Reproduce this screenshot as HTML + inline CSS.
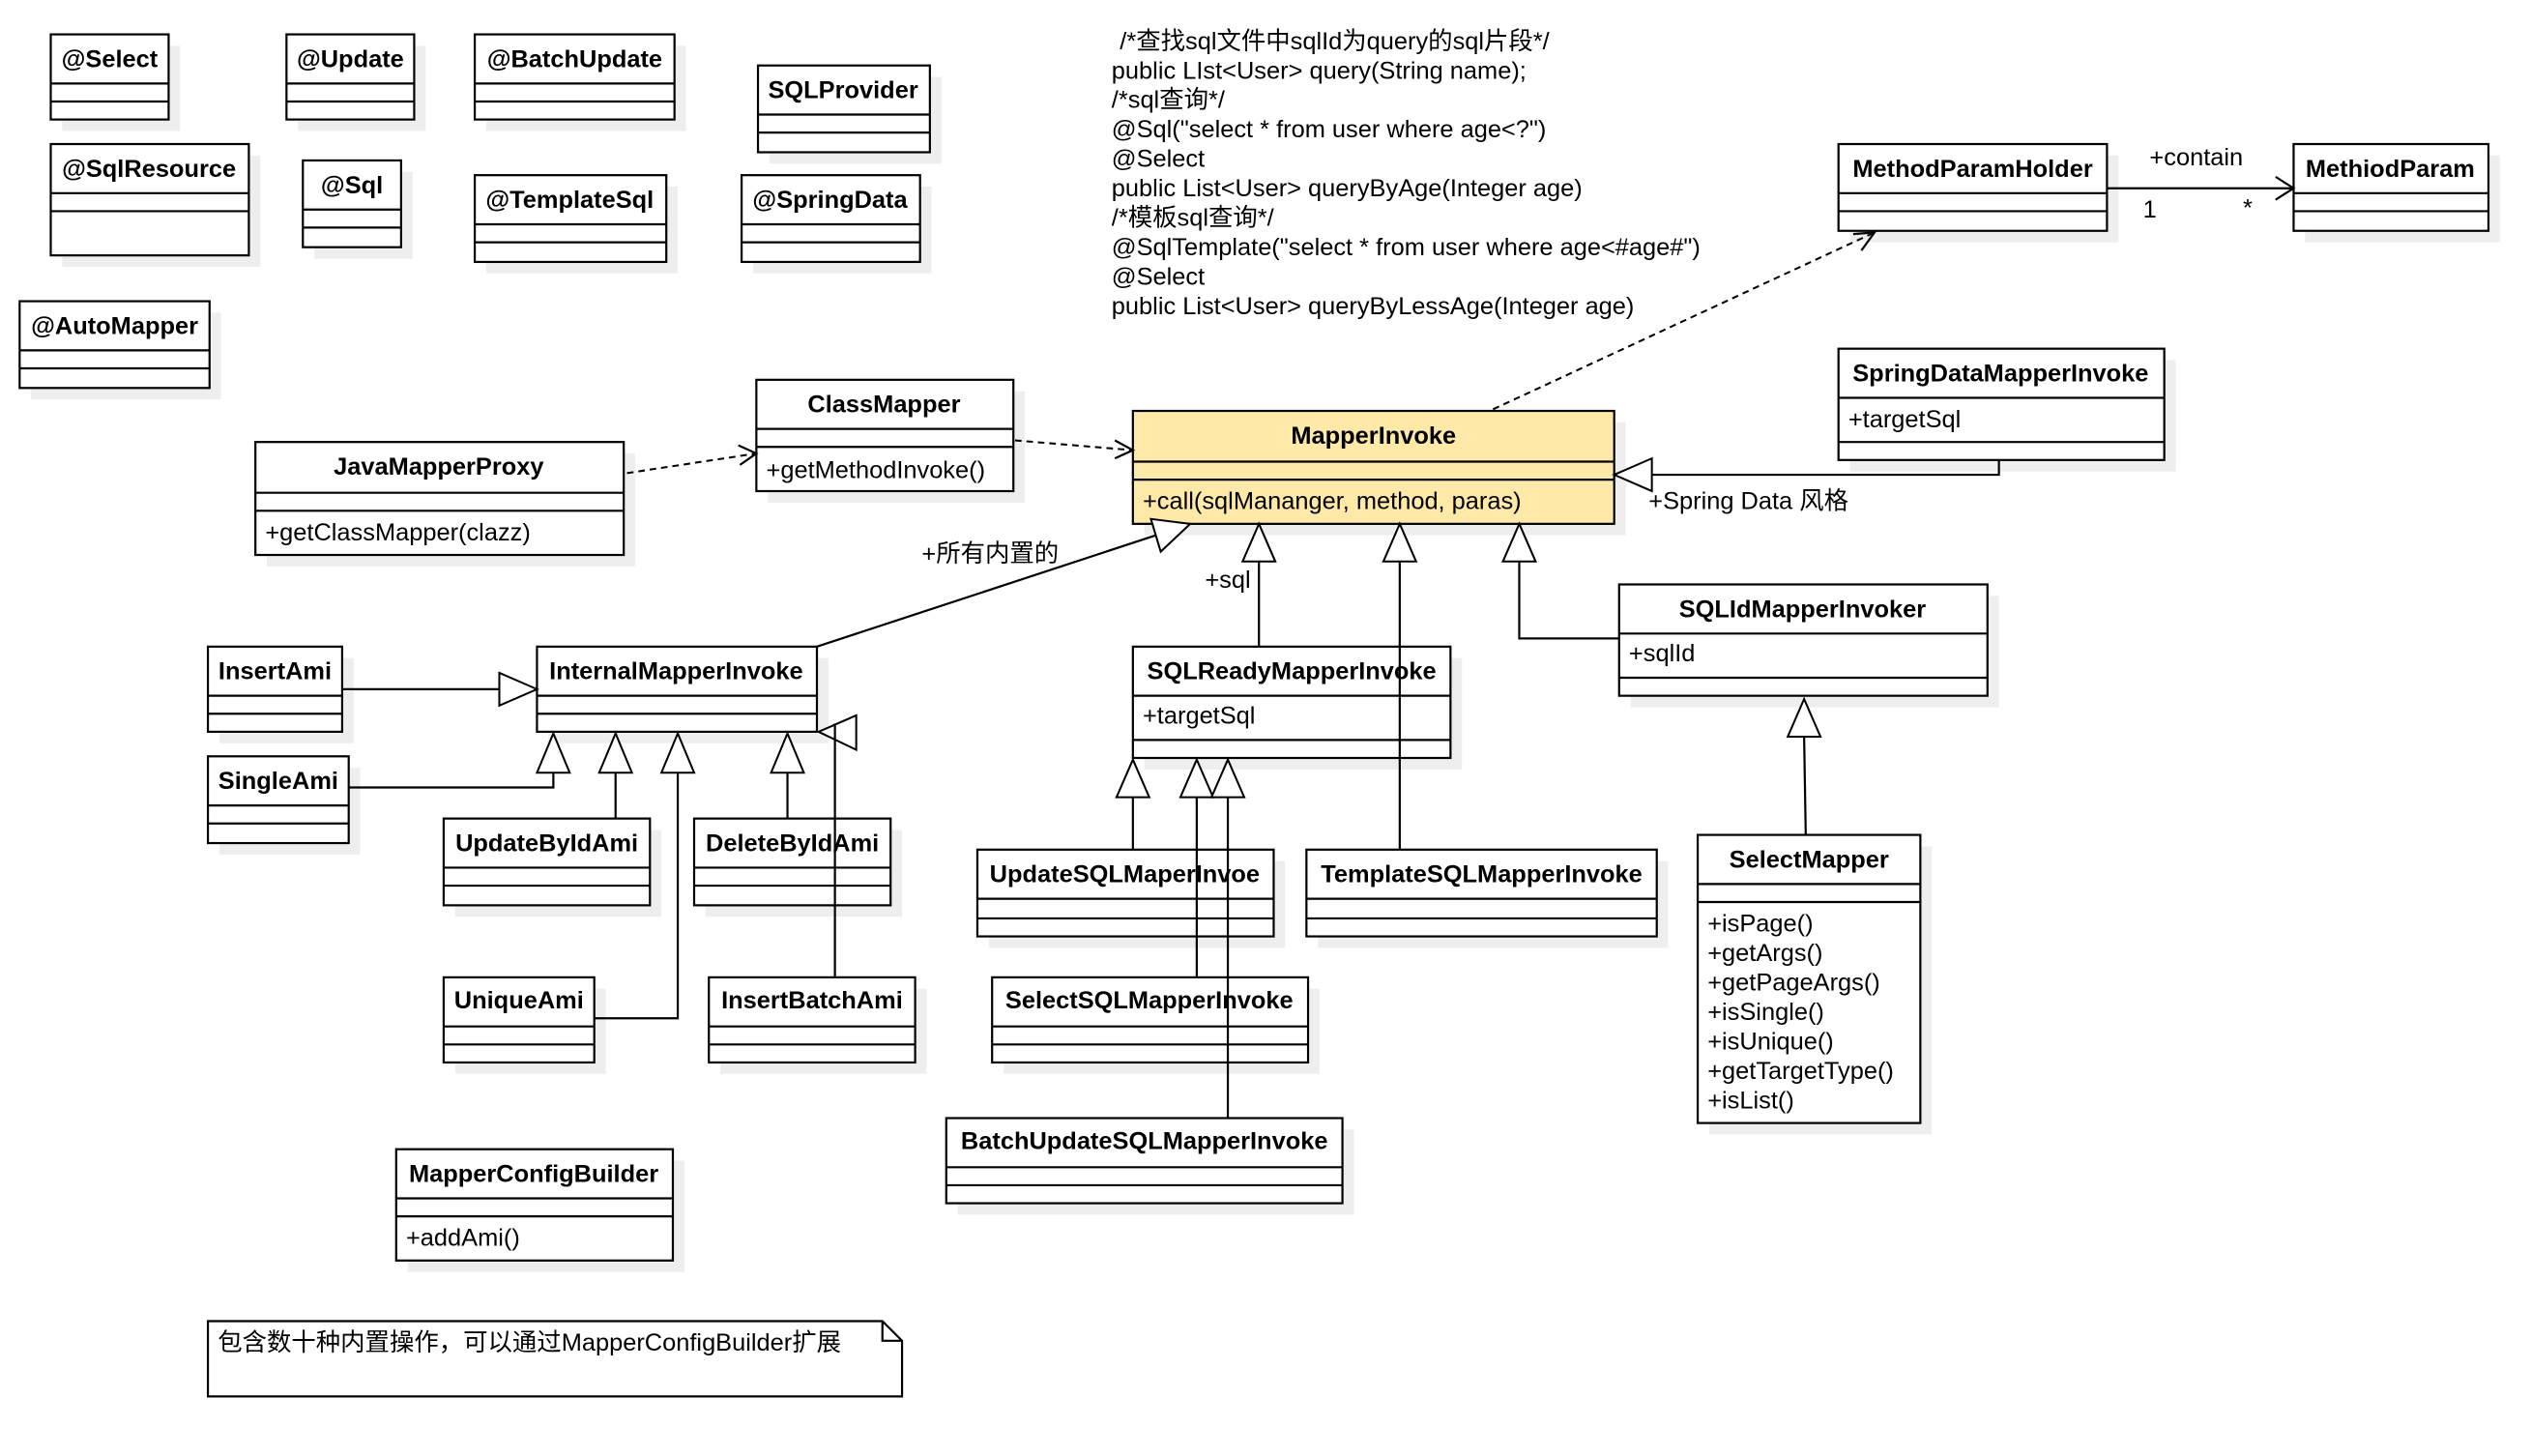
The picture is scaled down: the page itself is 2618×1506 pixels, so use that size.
<!DOCTYPE html>
<html><head><meta charset="utf-8"><style>
html,body{margin:0;padding:0;background:#fff;width:2618px;height:1506px;overflow:hidden}
svg{display:block}
text{font-family:"Liberation Sans","Noto Sans CJK SC",sans-serif;font-size:15px;fill:#000}
.h{font-weight:bold;text-anchor:middle}
.b{fill:#fff;stroke:#000;stroke-width:1.3}
.y{fill:#ffe9a8;stroke:#000;stroke-width:1.3}
.s{fill:#eeeeee}
.l{stroke:#000;stroke-width:1.3;fill:none}
.d{stroke:#000;stroke-width:1.2;fill:none;stroke-dasharray:4 3}
.t{fill:#fff;stroke:#000;stroke-width:1.2}
</style></head><body>
<svg width="2618" height="1506" viewBox="0 0 1546 889.4" preserveAspectRatio="none" xmlns="http://www.w3.org/2000/svg">
<!-- shadows -->
<g class="s">
<rect x="38" y="28" width="72" height="52"/><rect x="182" y="28" width="78" height="52"/><rect x="297" y="28" width="122" height="52"/>
<rect x="470" y="47" width="105" height="53"/><rect x="38" y="95" width="121" height="68"/><rect x="192" y="105" width="60" height="53"/>
<rect x="297" y="114" width="117" height="53"/><rect x="460" y="114" width="109" height="53"/><rect x="19" y="191" width="116" height="53"/>
<rect x="469" y="239" width="157" height="68"/><rect x="163" y="277" width="225" height="69"/><rect x="699" y="258" width="294" height="69"/>
<rect x="1130" y="95" width="164" height="53"/><rect x="1408" y="95" width="119" height="53"/><rect x="1130" y="220" width="199" height="68"/>
<rect x="996" y="364" width="225" height="68"/><rect x="699" y="402" width="194" height="68"/><rect x="335" y="402" width="171" height="52"/>
<rect x="134" y="402" width="82" height="52"/><rect x="134" y="469" width="86" height="53"/><rect x="278" y="507" width="126" height="53"/>
<rect x="431" y="507" width="120" height="53"/><rect x="278" y="604" width="92" height="52"/><rect x="440" y="604" width="126" height="52"/>
<rect x="604" y="526" width="181" height="53"/><rect x="805" y="526" width="214" height="53"/><rect x="613" y="604" width="193" height="52"/>
<rect x="585" y="690" width="242" height="52"/><rect x="1044" y="517" width="136" height="176"/><rect x="249" y="709" width="169" height="68"/>
</g>
<!-- boxes -->
<g>
<rect class="b" x="31" y="21" width="72" height="52"/><path class="l" d="M31 51H103M31 62H103"/><text class="h" x="67" y="41">@Select</text>
<rect class="b" x="175" y="21" width="78" height="52"/><path class="l" d="M175 51H253M175 62H253"/><text class="h" x="214" y="41">@Update</text>
<rect class="b" x="290" y="21" width="122" height="52"/><path class="l" d="M290 51H412M290 62H412"/><text class="h" x="351" y="41">@BatchUpdate</text>
<rect class="b" x="463" y="40" width="105" height="53"/><path class="l" d="M463 70H568M463 81H568"/><text class="h" x="515" y="60">SQLProvider</text>
<rect class="b" x="31" y="88" width="121" height="68"/><path class="l" d="M31 118H152M31 129H152"/><text class="h" x="91" y="108">@SqlResource</text>
<rect class="b" x="185" y="98" width="60" height="53"/><path class="l" d="M185 128H245M185 139H245"/><text class="h" x="215" y="118">@Sql</text>
<rect class="b" x="290" y="107" width="117" height="53"/><path class="l" d="M290 137H407M290 148H407"/><text class="h" x="348" y="127">@TemplateSql</text>
<rect class="b" x="453" y="107" width="109" height="53"/><path class="l" d="M453 137H562M453 148H562"/><text class="h" x="507" y="127">@SpringData</text>
<rect class="b" x="12" y="184" width="116" height="53"/><path class="l" d="M12 214H128M12 225H128"/><text class="h" x="70" y="204">@AutoMapper</text>
<rect class="b" x="462" y="232" width="157" height="68"/><path class="l" d="M462 262H619M462 273H619"/><text class="h" x="540" y="252">ClassMapper</text><text x="468" y="292">+getMethodInvoke()</text>
<rect class="b" x="156" y="270" width="225" height="69"/><path class="l" d="M156 301H381M156 312H381"/><text class="h" x="268" y="290">JavaMapperProxy</text><text x="162" y="330">+getClassMapper(clazz)</text>
<rect class="y" x="692" y="251" width="294" height="69"/><path class="l" d="M692 282H986M692 293H986"/><text class="h" x="839" y="271">MapperInvoke</text><text x="698" y="311">+call(sqlMananger, method, paras)</text>
<rect class="b" x="1123" y="88" width="164" height="53"/><path class="l" d="M1123 118H1287M1123 129H1287"/><text class="h" x="1205" y="108">MethodParamHolder</text>
<rect class="b" x="1401" y="88" width="119" height="53"/><path class="l" d="M1401 118H1520M1401 129H1520"/><text class="h" x="1460" y="108">MethiodParam</text>
<rect class="b" x="1123" y="213" width="199" height="68"/><path class="l" d="M1123 243H1322M1123 270H1322"/><text class="h" x="1222" y="233">SpringDataMapperInvoke</text><text x="1129" y="261">+targetSql</text>
<rect class="b" x="989" y="357" width="225" height="68"/><path class="l" d="M989 387H1214M989 414H1214"/><text class="h" x="1101" y="377">SQLIdMapperInvoker</text><text x="995" y="404">+sqlId</text>
<rect class="b" x="692" y="395" width="194" height="68"/><path class="l" d="M692 425H886M692 452H886"/><text class="h" x="789" y="415">SQLReadyMapperInvoke</text><text x="698" y="442">+targetSql</text>
<rect class="b" x="328" y="395" width="171" height="52"/><path class="l" d="M328 425H499M328 436H499"/><text class="h" x="413" y="415">InternalMapperInvoke</text>
<rect class="b" x="127" y="395" width="82" height="52"/><path class="l" d="M127 425H209M127 436H209"/><text class="h" x="168" y="415">InsertAmi</text>
<rect class="b" x="127" y="462" width="86" height="53"/><path class="l" d="M127 492H213M127 503H213"/><text class="h" x="170" y="482">SingleAmi</text>
<rect class="b" x="271" y="500" width="126" height="53"/><path class="l" d="M271 530H397M271 541H397"/><text class="h" x="334" y="520">UpdateByIdAmi</text>
<rect class="b" x="424" y="500" width="120" height="53"/><path class="l" d="M424 530H544M424 541H544"/><text class="h" x="484" y="520">DeleteByIdAmi</text>
<rect class="b" x="271" y="597" width="92" height="52"/><path class="l" d="M271 627H363M271 638H363"/><text class="h" x="317" y="616">UniqueAmi</text>
<rect class="b" x="433" y="597" width="126" height="52"/><path class="l" d="M433 627H559M433 638H559"/><text class="h" x="496" y="616">InsertBatchAmi</text>
<rect class="b" x="597" y="519" width="181" height="53"/><path class="l" d="M597 549H778M597 561H778"/><text class="h" x="687" y="539">UpdateSQLMaperInvoe</text>
<rect class="b" x="798" y="519" width="214" height="53"/><path class="l" d="M798 549H1012M798 561H1012"/><text class="h" x="905" y="539">TemplateSQLMapperInvoke</text>
<rect class="b" x="606" y="597" width="193" height="52"/><path class="l" d="M606 627H799M606 638H799"/><text class="h" x="702" y="616">SelectSQLMapperInvoke</text>
<rect class="b" x="578" y="683" width="242" height="52"/><path class="l" d="M578 713H820M578 724H820"/><text class="h" x="699" y="702">BatchUpdateSQLMapperInvoke</text>
<rect class="b" x="1037" y="510" width="136" height="176"/><path class="l" d="M1037 540H1173M1037 551H1173"/><text class="h" x="1105" y="530">SelectMapper</text>
<text x="1043" y="569">+isPage()</text><text x="1043" y="587">+getArgs()</text><text x="1043" y="605">+getPageArgs()</text><text x="1043" y="623">+isSingle()</text><text x="1043" y="641">+isUnique()</text><text x="1043" y="659">+getTargetType()</text><text x="1043" y="677">+isList()</text>
<rect class="b" x="242" y="702" width="169" height="68"/><path class="l" d="M242 732H411M242 743H411"/><text class="h" x="326" y="722">MapperConfigBuilder</text><text x="248" y="761">+addAmi()</text>
<path class="b" d="M127 807H539L551 819V853H127Z"/><path class="l" d="M539 807V819H551"/>
<text x="133" y="825">包含数十种内置操作，可以通过MapperConfigBuilder扩展</text>
</g>
<!-- top text -->
<g>
<text x="684" y="30">/*查找sql文件中sqlId为query的sql片段*/</text>
<text x="679" y="48">public LIst&lt;User&gt; query(String name);</text>
<text x="679" y="66">/*sql查询*/</text>
<text x="679" y="84">@Sql("select * from user where age&lt;?")</text>
<text x="679" y="102">@Select</text>
<text x="679" y="120">public List&lt;User&gt; queryByAge(Integer age)</text>
<text x="679" y="138">/*模板sql查询*/</text>
<text x="679" y="156">@SqlTemplate("select * from user where age&lt;#age#")</text>
<text x="679" y="174">@Select</text>
<text x="679" y="192">public List&lt;User&gt; queryByLessAge(Integer age)</text>
</g>
<!-- connectors -->
<path class="d" d="M383 289L462 277"/><path class="l" d="M451 272L462 277L452 284"/>
<path class="d" d="M620 269L692 275"/><path class="l" d="M681 269L692 275L681 280"/>
<path class="d" d="M912 250L1145 142"/><path class="l" d="M1132 143L1145 142L1137 153"/>
<path class="l" d="M1287 115H1401M1390 108L1401 115L1390 122"/>
<text x="1313" y="101">+contain</text><text x="1309" y="133">1</text><text x="1370" y="132">*</text>
<path class="l" d="M1221 281V290H1009"/><path class="t" d="M986 290L1009 280V300Z"/>
<text x="1007" y="311">+Spring Data 风格</text>
<path class="l" d="M499 395L706 327"/><path class="t" d="M727 320L703 317L709 337Z"/>
<text x="563" y="343">+所有内置的</text>
<path class="l" d="M769 395V343"/><path class="t" d="M769 320L759 343H779Z"/><text x="736" y="359">+sql</text>
<path class="l" d="M855 519V343"/><path class="t" d="M855 320L845 343H865Z"/>
<path class="l" d="M989 390H928V343"/><path class="t" d="M928 320L918 343H938Z"/>
<path class="l" d="M1103 510L1102 450"/><path class="t" d="M1102 427L1092 450H1112Z"/>
<path class="l" d="M209 421H305"/><path class="t" d="M328 421L305 411V431Z"/>
<path class="l" d="M213 481H338V472"/><path class="t" d="M338 448L328 472H348Z"/>
<path class="l" d="M376 500V472"/><path class="t" d="M376 448L366 472H386Z"/>
<path class="l" d="M363 622H414V472"/><path class="t" d="M414 448L404 472H424Z"/>
<path class="l" d="M481 500V472"/><path class="t" d="M481 448L471 472H491Z"/>
<path class="t" d="M500 447L523 437V458Z"/><path class="l" d="M510 442V597"/>
<path class="l" d="M692 519V487"/><path class="t" d="M692 464L682 487H702Z"/>
<path class="l" d="M731 597V487"/><path class="t" d="M731 464L721 487H741Z"/>
<path class="l" d="M750 683V487"/><path class="t" d="M750 464L740 487H760Z"/>
</svg>
</body></html>
